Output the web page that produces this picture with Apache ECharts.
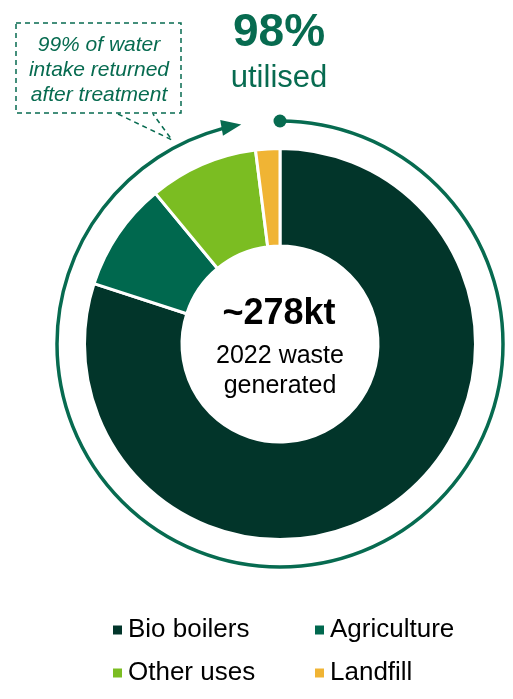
<!DOCTYPE html>
<html>
<head>
<meta charset="utf-8">
<script src="https://cdn.jsdelivr.net/npm/echarts@6/dist/echarts.min.js"></script>
<style>
html,body{margin:0;padding:0;background:#fff;}
#main{width:513px;height:699px;}
</style>
</head>
<body>
<div id="main"></div>
<script>
//废物去向数据
var categories = ['Bio boilers', 'Agriculture', 'Other uses', 'Landfill'];
var shares = [80, 9, 9, 2];
var colors = ['#02352a', '#00684e', '#7bbd22', '#f0b434'];
var headline = '98%';
var headlineSub = 'utilised';
var centerTitle = '~278kt';
var centerLines = ['2022 waste', 'generated'];
var calloutLines = ['99% of water', 'intake returned', 'after treatment'];

var green = '#076b50';
var font = '"Liberation Sans", Arial, sans-serif';
var cx = 280, cy = 344;		//圆心
var ringR = 223;		//外圈箭头半径

var chart = echarts.init(document.getElementById('main'));

//角度：从正上方顺时针
function pt(deg, r) {
	var a = deg * Math.PI / 180;
	return [cx + r * Math.sin(a), cy - r * Math.cos(a)];
}

//箭头三角形
var tipDeg = 350;
var tip = pt(tipDeg, ringR);
var ta = tipDeg * Math.PI / 180;
var dir = [Math.cos(ta), Math.sin(ta)];
var nor = [-dir[1], dir[0]];
var base = [tip[0] - dir[0] * 20, tip[1] - dir[1] * 20];
var arrow = [
	tip,
	[base[0] + nor[0] * 8, base[1] + nor[1] * 8],
	[base[0] - nor[0] * 8, base[1] - nor[1] * 8]
];
var start = pt(0, ringR);

var legends = [];
var legendPos = [[111, 617], [313, 617], [111, 660], [313, 660]];
for (var i = 0; i < categories.length; i++) {
	legends.push({
		data: [categories[i]],
		left: legendPos[i][0],
		top: legendPos[i][1],
		padding: 0,
		icon: 'rect',
		itemWidth: 11,
		itemHeight: 11,
		itemGap: 0,
		selectedMode: false,
		textStyle: {fontSize: 26, color: '#000', fontFamily: font, padding: [0, 0, 0, 0]}
	});
}

var graphics = [
	{
		type: 'arc',
		shape: {cx: cx, cy: cy, r: ringR, startAngle: -Math.PI / 2, endAngle: -Math.PI / 2 + 345 * Math.PI / 180, clockwise: true},
		style: {stroke: green, lineWidth: 3.5, fill: null}
	},
	{
		type: 'circle',
		shape: {cx: start[0], cy: start[1], r: 6.5},
		style: {fill: green}
	},
	{
		type: 'polygon',
		shape: {points: arrow},
		style: {fill: green}
	},
	{
		type: 'rect',
		shape: {x: 16, y: 23, width: 165, height: 90},
		style: {fill: '#fff', stroke: green, lineWidth: 1.5, lineDash: [5, 4]}
	},
	{
		type: 'polyline',
		shape: {points: [[118, 114], [172, 140], [153, 114]]},
		style: {fill: null, stroke: green, lineWidth: 1.5, lineDash: [5, 4]}
	},
	{
		type: 'text',
		x: 279, y: 33,
		style: {text: headline, fill: green, font: 'bold 46px ' + font, align: 'center', verticalAlign: 'middle'}
	},
	{
		type: 'text',
		x: 279, y: 78,
		style: {text: headlineSub, fill: green, font: '31px ' + font, align: 'center', verticalAlign: 'middle'}
	},
	{
		type: 'text',
		x: 279, y: 314,
		style: {text: centerTitle, fill: '#000', font: 'bold 36px ' + font, align: 'center', verticalAlign: 'middle'}
	}
];
for (var j = 0; j < centerLines.length; j++) {
	graphics.push({
		type: 'text',
		x: cx, y: 356 + j * 30,
		style: {text: centerLines[j], fill: '#000', font: '25px ' + font, align: 'center', verticalAlign: 'middle'}
	});
}
for (var k = 0; k < calloutLines.length; k++) {
	graphics.push({
		type: 'text',
		x: 99, y: 45 + k * 25,
		style: {text: calloutLines[k], fill: green, font: 'italic 21px ' + font, align: 'center', verticalAlign: 'middle'}
	});
}

option = {
	backgroundColor: '#fff',
	animation: false,
	color: colors,
	legend: legends,
	series: [{
		type: 'pie',
		center: [cx, cy],
		radius: [98, 195.5],
		startAngle: 90,
		clockwise: true,
		label: {show: false},
		labelLine: {show: false},
		silent: true,
		itemStyle: {borderColor: '#fff', borderWidth: 3},
		data: categories.map(function (c, i) {
			return {name: c, value: shares[i]};
		})
	}],
	graphic: graphics
};
chart.setOption(option, true);
</script>
</body>
</html>
